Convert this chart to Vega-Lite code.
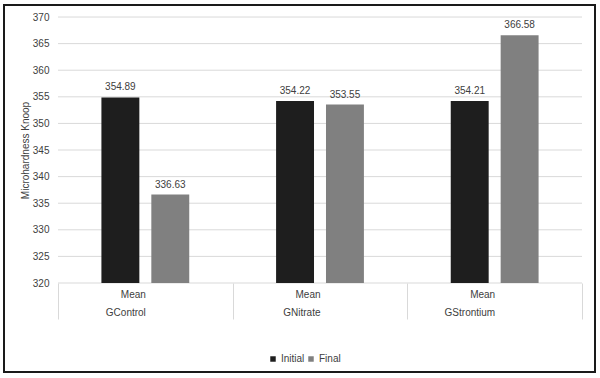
{
  "$schema": "https://vega.github.io/schema/vega-lite/v6.json",
  "width": 591,
  "height": 367,
  "autosize": {"type": "none"},
  "padding": {"left": 4, "top": 5, "right": 5, "bottom": 6},
  "background": "white",
  "config": {
    "view": {"stroke": "#1a1a1a", "strokeWidth": 2},
    "font": "Liberation Sans"
  },
  "datasets": {
    "bars": [
      {"group": "GControl", "stat": "Mean", "series": "Initial", "value": 354.89},
      {"group": "GControl", "stat": "Mean", "series": "Final", "value": 336.63},
      {"group": "GNitrate", "stat": "Mean", "series": "Initial", "value": 354.22},
      {"group": "GNitrate", "stat": "Mean", "series": "Final", "value": 353.55},
      {"group": "GStrontium", "stat": "Mean", "series": "Initial", "value": 354.21},
      {"group": "GStrontium", "stat": "Mean", "series": "Final", "value": 366.58}
    ],
    "grid": [
      {"v": 320}, {"v": 325}, {"v": 330}, {"v": 335}, {"v": 340}, {"v": 345},
      {"v": 350}, {"v": 355}, {"v": 360}, {"v": 365}, {"v": 370}
    ]
  },
  "layer": [
    {
      "data": {"name": "grid"},
      "mark": {"type": "rule", "color": "#d9d9d9", "strokeWidth": 1},
      "encoding": {
        "y": {
          "field": "v",
          "type": "quantitative",
          "scale": {"domain": [303.27, 372.26], "nice": false, "zero": false},
          "axis": {
            "values": [320, 325, 330, 335, 340, 345, 350, 355, 360, 365, 370],
            "tickCount": 11,
            "offset": -54,
            "domain": false,
            "ticks": false,
            "grid": false,
            "labelOverlap": false,
            "labelPadding": 9,
            "labelFontSize": 10,
            "labelColor": "#404040",
            "title": "Microhardness Knoop",
            "titleFontSize": 10,
            "titleFontWeight": "normal",
            "titleColor": "#404040",
            "titleX": -33,
            "titleY": 145,
            "titleAlign": "center",
            "titleBaseline": "middle",
            "titleAngle": 270
          }
        },
        "x": {"datum": "GControl", "type": "nominal", "bandPosition": 0},
        "x2": {"datum": "GStrontium", "bandPosition": 1}
      }
    },
    {
      "data": {"name": "bars"},
      "mark": {"type": "bar"},
      "encoding": {
        "x": {
          "field": "group",
          "type": "nominal",
          "scale": {"domain": ["GControl", "GNitrate", "GStrontium"], "range": [54, 578], "paddingInner": 0, "paddingOuter": 0},
          "axis": {
            "orient": "bottom",
            "offset": -89,
            "title": null,
            "domain": false,
            "ticks": true,
            "tickBand": "extent",
            "tickSize": 36,
            "tickColor": "#d9d9d9",
            "tickWidth": 1,
            "labelAngle": 0,
            "labelExpr": "(datum.label === '' || datum.index < 0 || !isValid(datum.value)) ? '' : ['Mean', datum.label]",
            "labelLineHeight": 18,
            "labelBaseline": "top",
            "labelPadding": -30,
            "labelFontSize": 10,
            "labelColor": "#404040"
          }
        },
        "xOffset": {
          "field": "series",
          "type": "nominal",
          "scale": {"domain": ["Initial", "Final"], "paddingInner": 0.24, "paddingOuter": 0.87}
        },
        "y": {"field": "value", "type": "quantitative"},
        "y2": {"datum": 320},
        "color": {
          "field": "series",
          "type": "nominal",
          "scale": {"domain": ["Initial", "Final"], "range": ["#1e1e1e", "#808080"]},
          "legend": {
            "orient": "none",
            "direction": "horizontal",
            "legendX": 264,
            "legendY": 349,
            "title": null,
            "symbolType": "square",
            "symbolSize": 30,
            "symbolStrokeWidth": 0,
            "labelFontSize": 10,
            "labelColor": "#404040",
            "columnPadding": 1,
            "labelOffset": 3,
            "padding": 0
          }
        }
      }
    },
    {
      "data": {"name": "bars"},
      "mark": {"type": "text", "baseline": "bottom", "dy": -5, "fontSize": 10, "color": "#404040"},
      "encoding": {
        "x": {"field": "group", "type": "nominal"},
        "xOffset": {"field": "series", "type": "nominal"},
        "y": {"field": "value", "type": "quantitative"},
        "text": {"field": "value", "type": "quantitative", "format": ".2f"}
      }
    }
  ]
}
